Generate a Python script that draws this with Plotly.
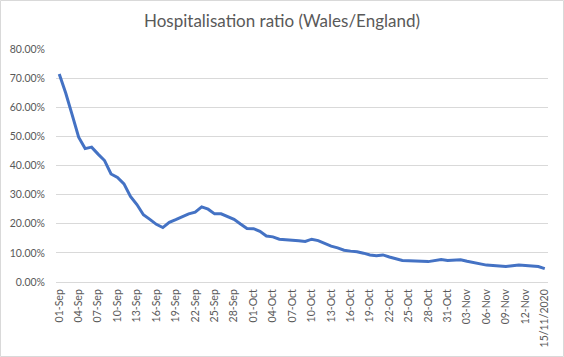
import plotly.graph_objects as go

# Daily ratio, 01-Sep-2020 .. 15-Nov-2020
ratio = [
    0.714, 0.649, 0.574, 0.497, 0.458, 0.463, 0.439, 0.417, 0.371, 0.359,
    0.337, 0.294, 0.266, 0.231, 0.215, 0.198, 0.187, 0.205, 0.214, 0.223,
    0.234, 0.240, 0.258, 0.250, 0.234, 0.234, 0.225, 0.215, 0.199, 0.184,
    0.183, 0.174, 0.158, 0.155, 0.147, 0.146, 0.143, 0.142, 0.139, 0.147,
    0.142, 0.132, 0.123, 0.117, 0.109, 0.106, 0.104, 0.099, 0.093, 0.090,
    0.093, 0.086, 0.080, 0.074, 0.073, 0.073, 0.071, 0.070, 0.073, 0.077,
    0.074, 0.075, 0.076, 0.071, 0.067, 0.061, 0.058, 0.057, 0.055, 0.053,
    0.056, 0.058, 0.057, 0.054, 0.053, 0.046,
]

tick_labels = [
    "01-Sep", "04-Sep", "07-Sep", "10-Sep", "13-Sep", "16-Sep", "19-Sep",
    "22-Sep", "25-Sep", "28-Sep", "01-Oct", "04-Oct", "07-Oct", "10-Oct",
    "13-Oct", "16-Oct", "19-Oct", "22-Oct", "25-Oct", "28-Oct", "31-Oct",
    "03-Nov", "06-Nov", "09-Nov", "12-Nov", "15/11/2020",
]

title_text = "Hospitalisation ratio (Wales/England)"

x = list(range(len(ratio)))
tick_pos = list(range(0, len(ratio), 3))

W, H = 564, 357
ml, mr, mt, mb = 56, 16, 49, 75
pw = W - ml - mr
ph = H - mt - mb

fig = go.Figure()
fig.add_trace(go.Scatter(
    x=x, y=ratio, mode="lines",
    line=dict(color="#4472C4", width=3),
    hoverinfo="skip",
))

grey = "#595959"
fig.update_layout(
    width=W, height=H,
    margin=dict(l=ml, r=mr, t=mt, b=mb, pad=0, autoexpand=False),
    paper_bgcolor="white", plot_bgcolor="white",
    showlegend=False,
    font=dict(family="Lato, Open Sans, sans-serif", color=grey, size=11),
    title=dict(text=title_text, x=0.5, xanchor="center", y=1 - 21 / H,
               yanchor="middle", font=dict(size=17, color=grey)),
    xaxis=dict(
        range=[-0.5, len(ratio) - 0.5],
        tickmode="array", tickvals=tick_pos, ticktext=tick_labels,
        tickangle=-90, showgrid=False, zeroline=False,
        showline=True, linecolor="#d9d9d9", linewidth=1,
        ticks="", tickfont=dict(size=10.5, color=grey),
        automargin=False, ticklabelstandoff=2,
    ),
    yaxis=dict(
        range=[0, 0.8], dtick=0.1, tickformat=".2%",
        showgrid=True, gridcolor="#d9d9d9", gridwidth=1,
        zeroline=False, showline=False, ticks="",
        ticklabelstandoff=10, automargin=False,
        tickfont=dict(size=10.5, color=grey),
    ),
    shapes=[dict(
        type="rect", xref="paper", yref="paper",
        x0=-(ml - 0.5) / pw, x1=1 + (mr - 0.5) / pw,
        y0=-(mb - 0.5) / ph, y1=1 + (mt - 0.5) / ph,
        line=dict(color="#d9d9d9", width=1), layer="below",
    )],
)

fig.write_html(
    "out.html",
    config={"displayModeBar": False, "staticPlot": True},
    post_script="document.body.style.margin='0';document.body.style.overflow='hidden';",
)
